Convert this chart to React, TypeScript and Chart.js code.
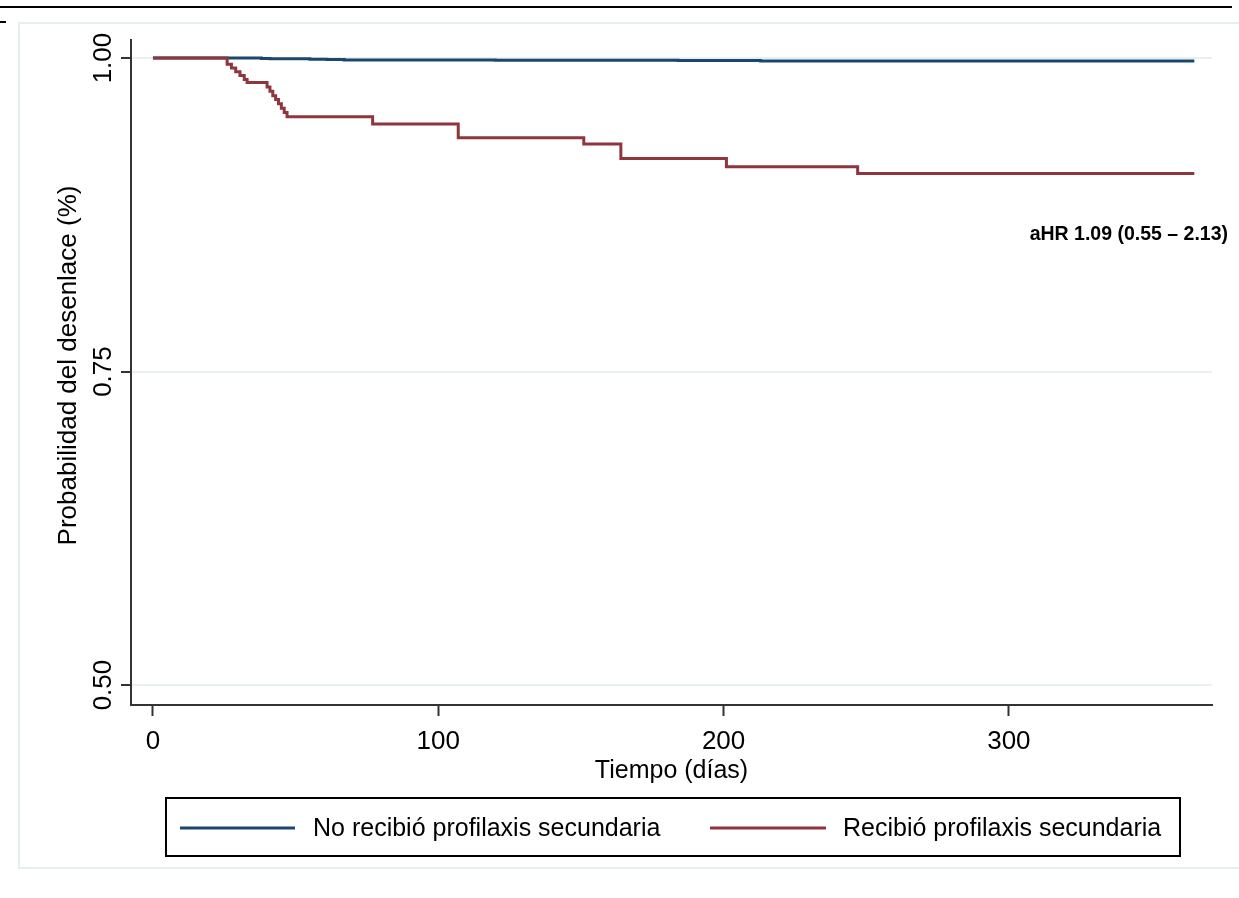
import React, { useEffect, useRef } from "react";
import { Chart, registerables } from "chart.js";

Chart.register(...registerables);

// ---- data ----
const xTickValues = [0, 100, 200, 300];
const yTickValues = [0.5, 0.75, 1.0];

const noProfDays = [0, 38, 41, 55, 61, 67, 120, 184, 213, 365];
const noProfSurv = [1.0, 0.9997, 0.9994, 0.9991, 0.9988, 0.9985, 0.9983, 0.998, 0.9977, 0.9977];

const profDays = [0, 26, 27.5, 29, 30.5, 32, 33, 40, 41, 42, 43, 44, 45, 46, 47, 77, 107, 151, 164, 201, 247, 365];
const profSurv = [
  1.0, 0.995, 0.992, 0.989, 0.986, 0.983, 0.9806, 0.977, 0.9735, 0.97, 0.967, 0.9635, 0.96, 0.9565, 0.9532,
  0.9474, 0.9364, 0.9314, 0.92, 0.9133, 0.908, 0.908,
];

const seriesLabels = ["No recibió profilaxis secundaria", "Recibió profilaxis secundaria"];
const seriesColors = ["#1a476f", "#90353b"];
const xTitle = "Tiempo (días)";
const yTitle = "Probabilidad del desenlace (%)";
const annotationText = "aHR 1.09 (0.55 – 2.13)";

const FONT = "'Liberation Sans', Arial, Helvetica, sans-serif";

const decorPlugin = {
  id: "decor",
  beforeDraw(chart: any) {
    const ctx = chart.ctx;
    ctx.save();
    ctx.fillStyle = "#ffffff";
    ctx.fillRect(0, 0, chart.width, chart.height);
    // light frame
    ctx.strokeStyle = "#e6eef0";
    ctx.lineWidth = 2;
    ctx.strokeRect(19, 23, 1236, 845);
    // top rule
    ctx.strokeStyle = "#000";
    ctx.lineWidth = 2;
    ctx.beginPath();
    ctx.moveTo(0, 7);
    ctx.lineTo(1232, 7);
    ctx.stroke();
    ctx.beginPath();
    ctx.moveTo(0, 22);
    ctx.lineTo(6, 22);
    ctx.stroke();
    ctx.restore();
  },
  afterDraw(chart: any) {
    const ctx = chart.ctx;
    const ys = chart.scales.y;
    const area = chart.chartArea;
    ctx.save();
    ctx.fillStyle = "#000";
    // y tick labels (rotated)
    ctx.font = `26px ${FONT}`;
    ctx.textAlign = "center";
    ctx.textBaseline = "alphabetic";
    yTickValues.forEach((v) => {
      const py = ys.getPixelForValue(v);
      ctx.save();
      ctx.translate(111, py);
      ctx.rotate(-Math.PI / 2);
      ctx.fillText(v.toFixed(2), 0, 0);
      ctx.restore();
    });
    // y title
    ctx.font = `26px ${FONT}`;
    ctx.save();
    ctx.translate(76, (area.top + area.bottom) / 2 - 7);
    ctx.rotate(-Math.PI / 2);
    ctx.fillText(yTitle, 0, 0);
    ctx.restore();
    // x title
    ctx.font = `25px ${FONT}`;
    ctx.fillText(xTitle, (area.left + area.right) / 2, 778);
    // annotation
    ctx.font = `bold 19.5px ${FONT}`;
    ctx.textAlign = "right";
    ctx.fillText(annotationText, 1228, 240);
    // legend
    ctx.strokeStyle = "#000";
    ctx.lineWidth = 2;
    ctx.strokeRect(166, 798, 1014, 58);
    const legendItems = [
      { x0: 180, x1: 295, tx: 313 },
      { x0: 710, x1: 826, tx: 843 },
    ];
    ctx.font = `25px ${FONT}`;
    ctx.textAlign = "left";
    ctx.textBaseline = "middle";
    legendItems.forEach((it, i) => {
      ctx.strokeStyle = seriesColors[i];
      ctx.lineWidth = 3;
      ctx.beginPath();
      ctx.moveTo(it.x0, 828);
      ctx.lineTo(it.x1, 828);
      ctx.stroke();
      ctx.fillStyle = "#000";
      ctx.fillText(seriesLabels[i], it.tx, 829);
    });
    ctx.restore();
  },
};

export default function App() {
  const canvasRef = useRef<HTMLCanvasElement | null>(null);

  useEffect(() => {
    const canvas = canvasRef.current;
    if (!canvas) return;
    const chart = new Chart(canvas, {
      type: "line",
      data: {
        datasets: [
          {
            label: seriesLabels[0],
            data: noProfDays.map((d, i) => ({ x: d, y: noProfSurv[i] })),
            borderColor: seriesColors[0],
            borderWidth: 3,
            stepped: "before",
            pointRadius: 0,
            fill: false,
            order: 1,
          },
          {
            label: seriesLabels[1],
            data: profDays.map((d, i) => ({ x: d, y: profSurv[i] })),
            borderColor: seriesColors[1],
            borderWidth: 3,
            stepped: "before",
            pointRadius: 0,
            fill: false,
            order: 0,
          },
        ],
      },
      options: {
        animation: false,
        responsive: false,
        devicePixelRatio: 1,
        layout: { padding: { left: 0, right: 27, top: 40, bottom: 0 } },
        plugins: { legend: { display: false }, tooltip: { enabled: false } },
        elements: { point: { radius: 0 } },
        scales: {
          x: {
            type: "linear",
            min: -7.7,
            max: 371.2,
            afterBuildTicks: (s: any) => {
              s.ticks = xTickValues.map((v) => ({ value: v }));
            },
            afterFit: (s: any) => {
              s.height = 193;
            },
            grid: { drawOnChartArea: false, drawTicks: true, tickLength: 11, tickWidth: 2, tickColor: "#333" },
            border: { display: true, color: "#333", width: 2 },
            ticks: {
              font: { size: 26, family: FONT },
              color: "#000",
              padding: 10,
              maxRotation: 0,
              autoSkip: false,
              callback: (v: any) => String(v),
            },
          },
          y: {
            type: "linear",
            min: 0.4841,
            max: 1.0144,
            afterBuildTicks: (s: any) => {
              s.ticks = yTickValues.map((v) => ({ value: v }));
            },
            afterFit: (s: any) => {
              s.width = 131;
            },
            grid: { color: "#e8f0f1", lineWidth: 2, drawTicks: true, tickLength: 10, tickWidth: 2, tickColor: "#333" },
            border: { display: true, color: "#333", width: 2 },
            ticks: { color: "rgba(0,0,0,0)", font: { size: 26, family: FONT }, autoSkip: false },
          },
        },
      } as any,
      plugins: [decorPlugin],
    });
    return () => chart.destroy();
  }, []);

  return (
    <div style={{ position: "fixed", left: 0, top: 0, width: 1239, height: 898, background: "#fff" }}>
      <canvas ref={canvasRef} width={1239} height={898} style={{ display: "block" }} />
    </div>
  );
}
